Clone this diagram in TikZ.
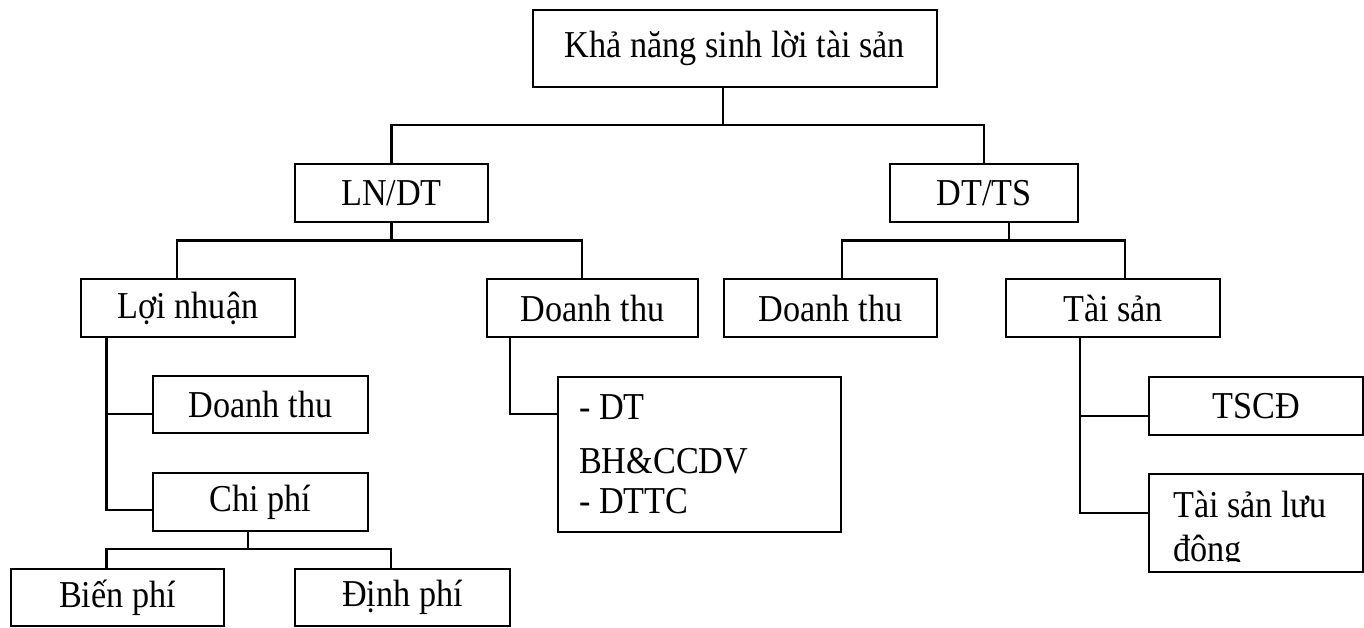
\documentclass[tikz,border=0pt]{standalone}
\usepackage{fontspec}
\setmainfont{Liberation Serif}[FakeStretch=0.9]
\begin{document}
\begin{tikzpicture}[x=1pt,y=-1pt,line width=2.2pt,
  box/.style={draw,rectangle,inner sep=0pt,font=\fontsize{38}{45}\selectfont},
  lbl/.style={inner sep=0pt,font=\fontsize{38}{45}\selectfont,anchor=base west},
  conn/.style={line width=2.2pt}]
\useasboundingbox (0,0) rectangle (1364,627);
% boxes
\node[box,minimum width=404pt,minimum height=77pt] (top) at (735,48.5) {Khả năng sinh lời tài sản};
\node[box,minimum width=193pt,minimum height=58pt] (lndt) at (391.5,193) {LN/DT};
\node[box,minimum width=188pt,minimum height=58pt] (dtts) at (984,193) {DT/TS};
\node[box,minimum width=214pt,minimum height=58pt] (ln) at (188,308) {Lợi nhuận};
\node[box,minimum width=211pt,minimum height=58pt] (dt1) at (592.5,308) {Doanh thu};
\node[box,minimum width=213pt,minimum height=58pt] (dt2) at (830.5,308) {Doanh thu};
\node[box,minimum width=214pt,minimum height=58pt] (ts) at (1113,308) {Tài sản};
\node[box,minimum width=215pt,minimum height=57pt] (dt3) at (260.5,404.5) {Doanh thu};
\node[box,minimum width=215pt,minimum height=58pt] (cp) at (260.5,502) {Chi phí};
\node[box,minimum width=213pt,minimum height=57pt] (bp) at (117.5,597.5) {Biến phí};
\node[box,minimum width=215pt,minimum height=57pt] (dp) at (402.5,597.5) {Định phí};
\node[box,minimum width=283pt,minimum height=155pt] (dtbh) at (699.5,454.5) {};
\node[box,minimum width=214pt,minimum height=58pt] (tscd) at (1256,406) {TSCĐ};
\node[box,minimum width=214pt,minimum height=98pt] (tsld) at (1256,523) {};
% texts inside the tall boxes
\node[lbl] (dtl1) at (578,419) {- DT};
\node[lbl] (dtl2) at (578,473) {BH\&CCDV};
\node[lbl] (dtl3) at (578,513) {- DTTC};
\node[lbl] (tsl1) at (1172,517) {Tài sản lưu};
\begin{scope}
  \clip (1149,474) rectangle (1363,561);
  \node[lbl] (tsl2) at (1172,561) {động};
\end{scope}
% connectors
\coordinate (j0) at (723,125);
\draw[conn] (top.south -| j0) -- (j0);
\draw[conn] (lndt.north) |- (j0) -| (dtts.north);
\coordinate (c1) at (177,240.5);
\coordinate (c2) at (582,240.5);
\draw[conn] (lndt.south) -- (lndt.south |- c1);
\draw[conn] (ln.north -| c1) -- (c1) -- (c2) -- (dt1.north -| c2);
\coordinate (c3) at (842,240.5);
\coordinate (c4) at (1125,240.5);
\coordinate (c5) at (1009,240.5);
\draw[conn] (dtts.south -| c5) -- (c5);
\draw[conn] (dt2.north -| c3) -- (c3) -- (c4) -- (ts.north -| c4);
\coordinate (c6) at (106.5,510);
\coordinate (c7) at (106.5,414);
\draw[conn] (ln.south -| c6) -- (c6) -- (c6 -| cp.west);
\draw[conn] (c7) -- (c7 -| dt3.west);
\coordinate (c8) at (248,549);
\coordinate (c9) at (106.5,549);
\coordinate (c10) at (391,549);
\draw[conn] (cp.south -| c8) -- (c8);
\draw[conn] (bp.north -| c9) -- (c9) -- (c10) -- (dp.north -| c10);
\coordinate (c11) at (510,414);
\draw[conn] (dt1.south -| c11) -- (c11) -- (c11 -| dtbh.west);
\coordinate (c12) at (1080,513);
\coordinate (c13) at (1080,416);
\draw[conn] (ts.south -| c12) -- (c12) -- (c12 -| tsld.west);
\draw[conn] (c13) -- (c13 -| tscd.west);
\end{tikzpicture}
\end{document}
